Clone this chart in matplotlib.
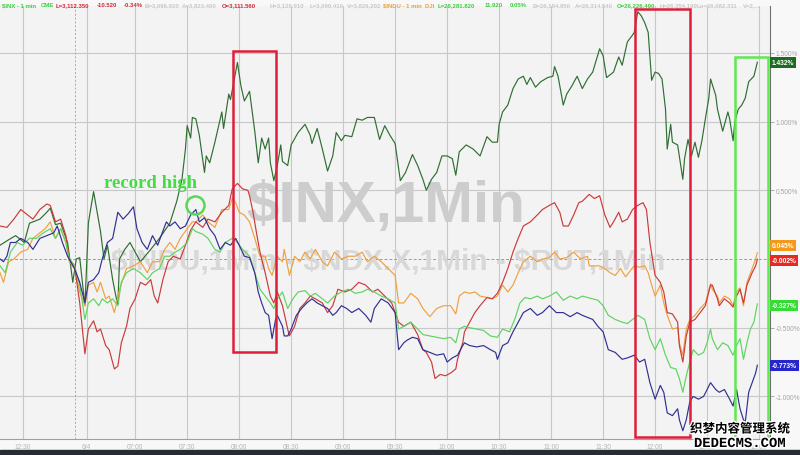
import matplotlib
matplotlib.use('Agg')
import matplotlib.pyplot as plt
import matplotlib.patheffects as pe
from matplotlib.patches import Rectangle

plt.rcParams['font.family'] = ['Liberation Sans', 'DejaVu Sans']

# x axis = one-minute bars counted from the left edge of the chart
tick_pos = [13, 50, 78, 108, 138, 168, 198, 228, 258, 288, 318, 348, 378, 408, 438]
tick_labels = ['12:30', '6/4', '07:00', '07:30', '08:00', '08:30', '09:00', '09:30',
               '10:00', '10:30', '11:00', '11:30', '12:00', '12:30', '13:00']
day_break = 43
y_grid = [1.5, 1.0, 0.5, -0.5, -1.0]

# (bar, % change)
inx = [(0, 0.10), (5, 0.14), (9, 0.17), (14, 0.12), (17, 0.26), (23, 0.29), (27, 0.34), (29, 0.37),
       (32, 0.25), (35, 0.26), (39, 0.12), (42, -0.17), (44, 0.0), (46, 0.01), (49, -0.34), (51, 0.26),
       (52, 0.34), (54, 0.49), (57, 0.27), (58, 0.20), (60, 0.0), (62, 0.10), (65, -0.15), (67, -0.28),
       (68, -0.33), (69, 0.0), (72, 0.07), (75, 0.12), (81, -0.02), (87, 0.07), (92, 0.15), (98, 0.26),
       (102, 0.42), (105, 0.58), (107, 0.80), (108, 0.97), (110, 0.88), (111, 1.03), (113, 1.02),
       (115, 0.90), (118, 0.63), (119, 0.75), (121, 0.70), (124, 0.85), (128, 1.07), (129, 0.95),
       (132, 1.20), (133, 1.16), (137, 1.43), (139, 1.26), (141, 1.15), (144, 1.22), (147, 0.93),
       (149, 0.70), (151, 0.88), (153, 0.80), (155, 0.88), (156, 0.70), (158, 0.57), (160, 0.68),
       (162, 0.83), (163, 0.71), (166, 0.68), (168, 0.83), (172, 0.92), (176, 0.98), (179, 0.90),
       (180, 0.84), (183, 0.95), (186, 0.80), (189, 0.64), (192, 0.75), (194, 0.92), (197, 0.86),
       (199, 0.90), (203, 0.89), (206, 1.02), (209, 1.01), (212, 1.03), (216, 1.03), (219, 0.87),
       (222, 0.97), (225, 0.90), (228, 0.84), (231, 0.57), (234, 0.63), (238, 0.76), (241, 0.68),
       (244, 0.58), (246, 0.50), (249, 0.58), (252, 0.63), (255, 0.75), (258, 0.75), (261, 0.73),
       (263, 0.61), (265, 0.78), (269, 0.83), (273, 0.80), (277, 0.75), (281, 0.89), (284, 0.85),
       (287, 0.85), (288, 0.98), (290, 1.07), (293, 1.12), (296, 1.24), (299, 1.31), (302, 1.33),
       (304, 1.27), (306, 1.32), (309, 1.25), (312, 1.29), (316, 1.32), (319, 1.33), (320, 1.40),
       (322, 1.33), (325, 1.12), (327, 1.20), (330, 1.26), (333, 1.33), (336, 1.24), (339, 1.31),
       (342, 1.36), (346, 1.53), (348, 1.48), (350, 1.32), (354, 1.36), (357, 1.47), (359, 1.41),
       (362, 1.58), (365, 1.63), (366, 1.65), (368, 1.80), (370, 1.77), (372, 1.72), (374, 1.65),
       (376, 1.30), (378, 1.36), (380, 1.35), (382, 1.31), (384, 1.09), (385, 0.80), (387, 0.98),
       (388, 0.85), (391, 0.83), (394, 0.58), (395, 0.73), (397, 0.87), (399, 0.75), (401, 0.85),
       (403, 0.74), (405, 0.86), (407, 1.02), (409, 1.17), (410, 1.31), (413, 1.19), (414, 1.09),
       (417, 0.93), (420, 1.07), (421, 1.02), (423, 0.86), (424, 1.00), (426, 1.09), (428, 1.12),
       (430, 1.17), (432, 1.29), (435, 1.33), (437, 1.432)]

indu = [(0, -0.10), (2, -0.17), (5, -0.02), (8, 0.0), (12, 0.05), (16, 0.07), (19, 0.15), (23, 0.19),
        (26, 0.22), (29, 0.27), (32, 0.15), (35, 0.22), (38, 0.12), (40, -0.02), (43, -0.07), (46, -0.24),
        (49, -0.34), (51, -0.19), (54, -0.17), (56, -0.24), (58, -0.17), (61, -0.29), (63, -0.27),
        (66, -0.39), (69, -0.22), (73, -0.07), (77, -0.05), (81, -0.02), (85, -0.10), (88, -0.02),
        (92, -0.02), (95, 0.07), (98, 0.12), (101, 0.07), (104, 0.15), (108, 0.22), (111, 0.27),
        (113, 0.27), (117, 0.32), (120, 0.27), (124, 0.23), (128, 0.36), (132, 0.36), (134, 0.44),
        (136, 0.41), (138, 0.34), (141, 0.32), (144, 0.27), (147, 0.15), (150, 0.02), (153, 0.02),
        (155, -0.07), (157, -0.12), (160, 0.02), (163, -0.02), (164, 0.07), (167, -0.12), (170, 0.02),
        (173, -0.02), (176, 0.05), (179, 0.0), (182, 0.07), (186, -0.02), (189, -0.05), (193, 0.05),
        (197, 0.0), (201, 0.02), (205, 0.02), (209, 0.05), (212, -0.02), (216, 0.02), (220, -0.02),
        (224, -0.07), (228, -0.12), (230, -0.32), (233, -0.32), (237, -0.25), (241, -0.29), (244, -0.36),
        (248, -0.42), (252, -0.36), (256, -0.34), (260, -0.34), (263, -0.40), (265, -0.27), (268, -0.24),
        (271, -0.25), (274, -0.24), (277, -0.27), (281, -0.28), (284, -0.29), (287, -0.27), (290, -0.19),
        (293, -0.24), (296, -0.19), (299, -0.10), (302, -0.02), (306, 0.02), (310, -0.02), (313, 0.0),
        (317, 0.01), (320, 0.05), (323, 0.0), (327, 0.01), (331, 0.05), (335, 0.0), (339, 0.02),
        (340, -0.05), (343, -0.05), (346, -0.05), (349, -0.07), (352, -0.10), (355, -0.12), (358, -0.07),
        (361, -0.13), (364, -0.08), (366, -0.05), (369, -0.06), (372, -0.05), (374, -0.10), (376, -0.19),
        (378, -0.27), (381, -0.19), (383, -0.32), (385, -0.41), (388, -0.51), (391, -0.50), (392, -0.61),
        (394, -0.70), (396, -0.51), (398, -0.44), (401, -0.41), (404, -0.36), (407, -0.32), (410, -0.18),
        (411, -0.22), (414, -0.27), (415, -0.32), (418, -0.27), (421, -0.29), (423, -0.34), (425, -0.24),
        (427, -0.21), (429, -0.34), (431, -0.17), (434, -0.07), (436, 0.0), (437, 0.045)]

ndx = [(0, 0.24), (4, 0.23), (8, 0.29), (12, 0.36), (16, 0.32), (19, 0.29), (23, 0.36), (27, 0.40),
       (29, 0.39), (32, 0.27), (35, 0.29), (38, 0.17), (40, 0.0), (43, -0.05), (46, -0.32), (49, -0.69),
       (51, -0.51), (54, -0.45), (56, -0.53), (58, -0.51), (61, -0.63), (63, -0.66), (66, -0.80),
       (68, -0.78), (70, -0.61), (73, -0.49), (75, -0.36), (78, -0.29), (81, -0.17), (84, -0.19),
       (87, -0.15), (89, -0.27), (91, -0.32), (94, -0.15), (97, -0.02), (100, 0.02), (104, 0.0),
       (107, 0.10), (110, 0.21), (113, 0.27), (117, 0.23), (120, 0.29), (124, 0.27), (128, 0.34),
       (132, 0.39), (134, 0.51), (137, 0.55), (140, 0.51), (143, 0.50), (144, 0.46), (146, 0.34),
       (148, 0.19), (150, 0.05), (153, -0.10), (156, -0.27), (158, -0.32), (160, -0.24), (163, -0.34),
       (166, -0.51), (167, -0.56), (170, -0.49), (173, -0.36), (176, -0.32), (179, -0.27), (182, -0.29),
       (186, -0.32), (189, -0.39), (192, -0.34), (195, -0.22), (199, -0.24), (203, -0.22), (207, -0.17),
       (211, -0.19), (215, -0.24), (218, -0.22), (222, -0.27), (226, -0.32), (230, -0.46), (233, -0.49),
       (237, -0.46), (241, -0.55), (244, -0.66), (246, -0.68), (249, -0.75), (251, -0.87), (254, -0.84),
       (257, -0.85), (260, -0.83), (263, -0.80), (264, -0.73), (267, -0.61), (268, -0.53), (271, -0.46),
       (274, -0.39), (277, -0.34), (281, -0.28), (284, -0.29), (287, -0.25), (290, -0.17), (293, -0.07),
       (296, 0.05), (299, 0.15), (302, 0.24), (306, 0.27), (310, 0.32), (313, 0.36), (317, 0.39),
       (320, 0.41), (323, 0.34), (325, 0.24), (328, 0.24), (331, 0.32), (334, 0.41), (336, 0.42),
       (340, 0.47), (343, 0.44), (346, 0.46), (349, 0.32), (352, 0.23), (354, 0.27), (357, 0.34),
       (359, 0.27), (362, 0.29), (365, 0.36), (368, 0.39), (371, 0.41), (373, 0.36), (375, 0.12),
       (378, -0.12), (381, -0.17), (383, -0.24), (385, -0.39), (388, -0.40), (391, -0.46), (392, -0.63),
       (394, -0.75), (396, -0.56), (398, -0.46), (401, -0.44), (404, -0.39), (407, -0.34), (410, -0.19),
       (411, -0.19), (414, -0.29), (415, -0.34), (418, -0.29), (421, -0.32), (423, -0.35), (425, -0.27),
       (427, -0.22), (429, -0.32), (431, -0.19), (434, -0.10), (436, -0.05), (437, -0.002)]

rut = [(0, -0.05), (3, -0.10), (6, 0.05), (10, 0.12), (13, 0.10), (17, 0.15), (21, 0.15), (25, 0.19),
       (29, 0.22), (32, 0.15), (35, 0.22), (38, 0.12), (40, 0.0), (43, -0.05), (46, -0.19), (49, -0.44),
       (51, -0.32), (54, -0.29), (57, -0.34), (59, -0.29), (62, -0.32), (65, -0.29), (68, -0.34),
       (70, -0.17), (73, -0.10), (77, -0.07), (81, -0.10), (85, -0.15), (88, -0.10), (92, -0.07),
       (95, 0.02), (98, 0.02), (101, 0.05), (104, 0.07), (108, 0.12), (111, 0.22), (113, 0.20),
       (117, 0.18), (120, 0.15), (124, 0.07), (127, 0.05), (130, 0.12), (134, 0.15), (137, 0.12),
       (140, 0.07), (144, 0.02), (147, -0.10), (150, -0.22), (153, -0.27), (156, -0.32), (158, -0.36),
       (160, -0.29), (163, -0.24), (166, -0.36), (169, -0.29), (172, -0.24), (176, -0.23), (179, -0.27),
       (182, -0.25), (186, -0.29), (189, -0.32), (193, -0.27), (197, -0.24), (201, -0.22), (205, -0.25),
       (209, -0.24), (212, -0.22), (216, -0.24), (220, -0.27), (224, -0.29), (228, -0.32), (230, -0.51),
       (233, -0.49), (237, -0.46), (241, -0.51), (244, -0.55), (248, -0.56), (252, -0.57), (256, -0.58),
       (260, -0.57), (263, -0.61), (265, -0.51), (268, -0.49), (271, -0.50), (275, -0.51), (279, -0.52),
       (283, -0.56), (287, -0.57), (290, -0.51), (294, -0.53), (297, -0.44), (300, -0.32), (303, -0.28),
       (306, -0.29), (310, -0.27), (313, -0.29), (317, -0.27), (321, -0.24), (325, -0.30), (329, -0.27),
       (333, -0.29), (336, -0.27), (342, -0.29), (345, -0.30), (348, -0.34), (351, -0.41), (355, -0.44),
       (359, -0.46), (362, -0.47), (365, -0.44), (368, -0.41), (372, -0.44), (375, -0.58), (378, -0.66),
       (381, -0.58), (384, -0.70), (387, -0.79), (390, -0.80), (392, -0.87), (394, -0.97), (396, -0.85),
       (398, -0.75), (400, -0.66), (403, -0.70), (406, -0.68), (408, -0.61), (410, -0.51), (411, -0.58),
       (414, -0.66), (417, -0.61), (420, -0.63), (423, -0.70), (425, -0.63), (427, -0.58), (429, -0.73),
       (431, -0.61), (433, -0.51), (435, -0.46), (437, -0.327)]

third = [(0, 0.0), (2, -0.02), (4, 0.02), (6, 0.12), (9, 0.12), (12, 0.15), (16, 0.12), (19, 0.07),
         (23, 0.15), (27, 0.17), (31, 0.19), (33, 0.24), (36, 0.12), (39, 0.02), (43, -0.07), (46, -0.17),
         (49, -0.32), (51, -0.17), (54, -0.15), (57, -0.10), (59, 0.0), (62, 0.12), (65, 0.15), (68, 0.34),
         (71, 0.29), (74, 0.33), (77, 0.38), (79, 0.22), (82, 0.12), (85, 0.07), (88, 0.17), (91, 0.10),
         (93, 0.17), (96, 0.27), (98, 0.24), (101, 0.27), (104, 0.22), (107, 0.24), (110, 0.32),
         (113, 0.36), (115, 0.27), (118, 0.30), (121, 0.22), (124, 0.17), (127, 0.07), (130, 0.12),
         (133, 0.10), (136, 0.15), (138, 0.10), (141, 0.02), (144, 0.01), (147, -0.10), (149, -0.24),
         (151, -0.32), (153, -0.39), (155, -0.41), (157, -0.58), (159, -0.44), (160, -0.41), (163, -0.49),
         (164, -0.56), (166, -0.56), (168, -0.51), (171, -0.41), (174, -0.36), (177, -0.32), (180, -0.29),
         (183, -0.32), (186, -0.34), (189, -0.36), (192, -0.41), (194, -0.39), (197, -0.34), (200, -0.36),
         (203, -0.39), (207, -0.36), (211, -0.41), (214, -0.46), (216, -0.36), (220, -0.29), (224, -0.32),
         (228, -0.39), (230, -0.66), (233, -0.61), (235, -0.59), (238, -0.57), (241, -0.58), (244, -0.66),
         (248, -0.68), (252, -0.70), (256, -0.69), (258, -0.75), (261, -0.72), (264, -0.70), (267, -0.63),
         (268, -0.61), (271, -0.63), (275, -0.64), (279, -0.63), (283, -0.66), (286, -0.68), (287, -0.73),
         (290, -0.63), (293, -0.61), (296, -0.53), (299, -0.46), (302, -0.39), (306, -0.36), (310, -0.41),
         (313, -0.39), (317, -0.34), (321, -0.39), (325, -0.39), (329, -0.42), (333, -0.39), (336, -0.41),
         (342, -0.44), (345, -0.49), (348, -0.53), (351, -0.66), (355, -0.68), (359, -0.73), (362, -0.72),
         (366, -0.70), (369, -0.75), (372, -0.73), (375, -0.90), (378, -1.02), (381, -0.92), (383, -0.97),
         (385, -1.12), (388, -1.14), (391, -1.09), (392, -1.17), (394, -1.25), (396, -1.17), (398, -1.04),
         (400, -1.00), (403, -1.02), (406, -1.00), (408, -0.95), (410, -0.90), (413, -0.95), (415, -0.97),
         (418, -0.95), (421, -1.02), (423, -1.07), (425, -0.95), (427, -1.09), (429, -1.17), (430, -1.19),
         (432, -0.97), (434, -0.90), (436, -0.83), (437, -0.773)]

# line colour, label box colour, label nudge (in %)
styles = [
    (inx, '#2f6e32', '#1f6a22', 0.0),
    (indu, '#f0a040', '#f39a1c', 0.05),
    (ndx, '#cc3a3a', '#e62a22', -0.01),
    (rut, '#5fd35f', '#35dc35', -0.008),
    (third, '#303092', '#2626cc', 0.0),
]

fig = plt.figure(figsize=(8, 4.56), dpi=100, facecolor='#f8f8f8')
ax = fig.add_axes([0, 16 / 456, 770 / 800, 433 / 456])
ax.set_facecolor('#f3f3f3')
ax.set_xlim(0, 444.3)
ax.set_ylim(-1.31, 1.841)

# grid
for v in y_grid:
    ax.axhline(v, color='#c8c8c8', lw=0.8, zorder=0)
for p in tick_pos:
    ax.axvline(p, color='#c8c8c8', lw=0.8, zorder=0)
ax.axhline(0, color='#9c9c9c', lw=0.7, ls=(0, (3, 2)), zorder=0)
ax.axvline(day_break, color='#a8a8a8', lw=0.7, ls=(0, (2, 2)), zorder=0)

# watermarks
ax.text(0.501, 0.538, '\\$INX,1Min', transform=ax.transAxes, fontsize=42, fontweight='bold',
        color='#cdcdcd', ha='center', va='center', zorder=1)
ax.text(0.504, 0.413, '\\$INDU,1Min - \\$NDX.X,1Min - \\$RUT,1Min', transform=ax.transAxes,
        fontsize=21.5, fontweight='bold', color='#d8d8d8', ha='center', va='center', zorder=1)

for data, col, bg, nudge in styles:
    t = [p[0] for p in data]
    v = [p[1] for p in data]
    ax.plot(t, v, color=col, lw=0.85, zorder=3)
    ax.text(1.002, v[-1] + nudge, f'{v[-1]:.3f}%', transform=ax.get_yaxis_transform(),
            ha='left', va='center', fontsize=4.8, fontweight='bold', color='white', clip_on=False,
            zorder=6, bbox=dict(boxstyle='square,pad=0.3', fc=bg, ec='none'))

# annotation boxes
ax.add_patch(Rectangle((134.5, -0.68), 24.8, 2.19, fill=False, ec='#dd1f3a', lw=1.8, zorder=5))
ax.add_patch(Rectangle((366.4, -1.295), 31.8, 3.115, fill=False, ec='#dd1f3a', lw=1.8, zorder=5))
ax.add_patch(Rectangle((424.1, -1.36), 19.1, 2.83, fill=False, ec='#5fe84f', lw=1.8, zorder=5))
ax.plot([112.5], [0.39], marker='o', ms=13, mfc='none', mec='#58d858', mew=1.8, zorder=5)
ax.text(86.7, 0.555, 'record high', fontsize=13.5, fontweight='bold', family='Liberation Serif',
        color='#45dc45', ha='center', va='center', zorder=6)

# axes
for s in ['top', 'left']:
    ax.spines[s].set_visible(False)
ax.spines['bottom'].set_color('#a0a0a0')
ax.spines['right'].set_color('#707070')
ax.yaxis.tick_right()
ax.set_yticks(y_grid, [f'{v:.3f}%' for v in y_grid])
ax.tick_params(axis='y', length=3, width=0.6, color='#a0a0a0', labelsize=4.8,
               labelcolor='#a5a5a5', pad=1)
ax.set_xticks(tick_pos, tick_labels)
ax.tick_params(axis='x', length=0, labelsize=4.8, labelcolor='#b5b5b5', pad=3)

# header line
header = [('\\$INX - 1 min', '#3ccf3c', 2), ('CME', '#3ccf3c', 41), ('L=3,112.350', '#d0263a', 56),
          ('-10.520', '#d0263a', 97), ('-0.34%', '#d0263a', 124), ('B=3,096.920', '#c8c8c8', 145),
          ('A=3,823.400', '#c8c8c8', 182), ('O=3,111.560', '#d0263a', 222), ('H=3,120.910', '#c8c8c8', 270),
          ('L=3,090.410', '#c8c8c8', 310), ('V=3,826,202', '#c8c8c8', 347),
          ('\\$INDU - 1 min  DJI', '#eea030', 383), ('L=26,281.820', '#3ccf3c', 438),
          ('11.920', '#3ccf3c', 485), ('0.05%', '#3ccf3c', 510), ('B=26,194.850', '#c8c8c8', 533),
          ('A=26,314.540', '#c8c8c8', 575), ('O=26,226.490', '#3ccf3c', 617),
          ('H=26,354.190', '#c8c8c8', 660), ('Lo=26,082.311', '#c8c8c8', 697), ('V=2,...', '#c8c8c8', 743)]
for txt, col, xp in header:
    fig.text(xp / 800, 1 - 5.5 / 456, txt, fontsize=4.3, fontweight='bold', color=col,
             ha='left', va='center')

# site watermark in the corner
stroke = [pe.withStroke(linewidth=2, foreground='white')]
fig.text(740 / 800, 1 - 430 / 456, '织梦内容管理系统', family=['Noto Sans CJK SC', 'DejaVu Sans'],
         fontsize=9, fontweight='bold', color='black', ha='center', va='center', path_effects=stroke)
fig.text(740 / 800, 1 - 444 / 456, 'DEDECMS.COM', family='Liberation Mono', fontsize=10,
         fontweight='bold', color='black', ha='center', va='center', path_effects=stroke)

# dark strip at the bottom
fig.add_artist(Rectangle((0, 0), 1, 5 / 456, transform=fig.transFigure, color='#272c34', zorder=0))

fig.savefig('out.png', dpi=100, facecolor=fig.get_facecolor())
